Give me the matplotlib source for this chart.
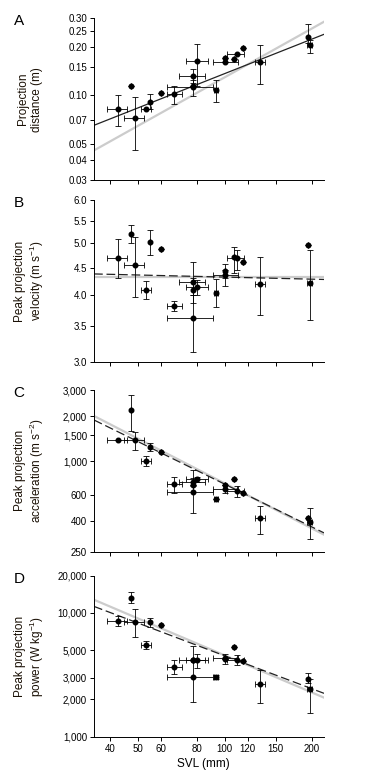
import matplotlib
matplotlib.use("Agg")
import matplotlib.pyplot as plt
import numpy as np
from matplotlib.ticker import FixedLocator, FixedFormatter, NullLocator

plt.rcParams['font.family'] = ['Liberation Sans', 'DejaVu Sans']
plt.rcParams['mathtext.fontset'] = 'custom'
plt.rcParams['mathtext.rm'] = 'Liberation Sans'
plt.rcParams['mathtext.default'] = 'regular'

# snout-vent length (mm) for each species, with x error range
svl = [42.7, 47.5, 48.8, 53.5, 55.0, 60.3, 67.0, 77.5, 77.5, 77.9,
       80.2, 93.3, 100.2, 100.2, 107.9, 109.9, 115.3, 132.7, 194.8, 197.4]
svl_lo = [39.2, None, 44.8, 51.3, None, None, 63.2, 69.7, 63.2, None,
          73.5, 92.0, None, 90.9, None, 101.8, None, 127.5, None, 193.0]
svl_hi = [46.0, None, 52.7, 55.7, None, None, 71.1, 85.7, 91.3, None,
          87.8, 95.0, None, 110.8, None, 116.8, None, 138.0, None, 201.0]

# A: projection distance (m)
dist = [0.0825, 0.115, 0.0722, 0.0821, 0.0907, 0.1031, 0.1026, 0.132, 0.1123, 0.1145,
        0.164, 0.1076, 0.1697, 0.1618, 0.168, 0.1814, 0.1957, 0.1618, 0.229, 0.204]
dist_lo = [0.0644, None, 0.046, None, 0.082, None, 0.0886, 0.12, 0.0993, None,
           0.115, 0.0907, None, None, None, None, None, 0.1178, 0.21, 0.182]
dist_hi = [0.1002, None, 0.0974, None, 0.1016, None, 0.115, 0.145, 0.1247, None,
           0.207, 0.124, None, None, None, None, None, 0.204, 0.275, 0.22]

# B: peak projection velocity (m/s)
vel = [4.694, 5.195, 4.544, 4.089, 5.02, 4.865, 3.823, 4.231, 3.633, 4.089,
       4.136, 4.043, 4.435, 4.36, 4.709, 4.683, 4.616, 4.195, 4.949, 4.219]
vel_lo = [4.304, 5.0, 3.963, 3.929, 4.75, None, 3.737, 4.0, 3.135, 3.862,
          4.002, 3.796, 4.3, 4.159, 4.4, 4.45, None, 3.674, None, 3.591]
vel_hi = [5.085, 5.392, 5.122, 4.25, 5.285, None, 3.9, 4.602, 4.0, 4.3,
          4.267, 4.279, 4.563, 4.45, 4.907, 4.85, None, 4.715, None, 4.852]

# C: peak projection acceleration (m/s2)
acc = [1384, 2195, 1384, 1002, 1249, 1151, 707, 730, 626, 700,
       760, 564, 700, 655, 768, 632, 616, 419, 419, 394]
acc_lo = [None, 1606, 1199, 928, 1169, None, 616, 690, 453, None,
          730, None, None, 620, None, 580, None, 330, None, 304]
acc_hi = [None, 2764, 1565, 1082, 1328, None, 788, 770, 882, None,
          790, None, None, 700, None, 690, None, 507, None, 487]

# D: peak projection power (W/kg)
power = [8604, 13282, 8497, 5506, 8393, 7937, 3679, 4165, 3016, 4165,
         4165, 3054, 4217, 4296, 5272, 4165, 4063, 2665, 2925, 2413]
power_lo = [7840, 11954, 6429, 5086, 7647, None, 3209, None, 1918, None,
            3566, 2950, None, 3900, None, 3800, None, 1859, 2700, 1543]
power_hi = [9444, 14664, 10690, 5894, 9155, None, 4165, None, 5404, None,
            4627, 3170, None, 4700, None, 4550, None, 3457, 3250, 2900]

# fitted power laws: (value at 100 mm, exponent)
fit_solid = [(0.1365, 0.707), None, None, None]
fit_dashed = [None, (4.320, -0.0129), (706, -0.9466), (4505, -0.8825)]
fit_gray = [(0.1295, 1.0), (4.316, 0.0), (714, -0.9957), (4542, -0.994)]

xticks = [40, 50, 60, 80, 100, 120, 150, 200]
yticks = [
    [0.03, 0.04, 0.05, 0.07, 0.10, 0.15, 0.20, 0.25, 0.30],
    [3.0, 3.5, 4.0, 4.5, 5.0, 5.5, 6.0],
    [250, 400, 600, 1000, 1500, 2000, 3000],
    [1000, 2000, 3000, 5000, 10000, 20000],
]
ytick_labels = [
    ['0.03', '0.04', '0.05', '0.07', '0.10', '0.15', '0.20', '0.25', '0.30'],
    ['3.0', '3.5', '4.0', '4.5', '5.0', '5.5', '6.0'],
    ['250', '400', '600', '1,000', '1,500', '2,000', '3,000'],
    ['1,000', '2,000', '3,000', '5,000', '10,000', '20,000'],
]
ylabels = [
    'Projection\ndistance (m)',
    'Peak projection\nvelocity (m s$^{-1}$)',
    'Peak projection\nacceleration (m s$^{-2}$)',
    'Peak projection\npower (W kg$^{-1}$)',
]
letters = ['A', 'B', 'C', 'D']
ys = [dist, vel, acc, power]
ylos = [dist_lo, vel_lo, acc_lo, power_lo]
yhis = [dist_hi, vel_hi, acc_hi, power_hi]

W, H = 380, 782
fig = plt.figure(figsize=(W / 100, H / 100), dpi=100)

# axes boxes in pixels: (top, bottom)
boxes = [(18.3, 180.0), (200.3, 362.3), (390.0, 551.7), (575.7, 736.7)]
left, right = 94, 324
xlim = (35.3, 220.6)


def err(vals, lo, hi):
    lower = [v - l if l is not None else 0 for v, l in zip(vals, lo)]
    upper = [h - v if h is not None else 0 for v, h in zip(vals, hi)]
    return np.array([lower, upper])


xerr = err(svl, svl_lo, svl_hi)
xx = np.geomspace(xlim[0], xlim[1], 50)

for i in range(4):
    top, bot = boxes[i]
    ax = fig.add_axes([left / W, 1 - bot / H, (right - left) / W, (bot - top) / H])
    ax.set_xscale('log')
    ax.set_yscale('log')
    ax.set_xlim(*xlim)
    ax.set_ylim(yticks[i][0], yticks[i][-1])

    if fit_gray[i]:
        a, b = fit_gray[i]
        ax.plot(xx, a * (xx / 100) ** b, color='#cccccc', lw=1.6, zorder=1)
    if fit_solid[i]:
        a, b = fit_solid[i]
        ax.plot(xx, a * (xx / 100) ** b, color='#222222', lw=0.9, zorder=2)
    if fit_dashed[i]:
        a, b = fit_dashed[i]
        ax.plot(xx, a * (xx / 100) ** b, color='#222222', lw=0.9,
                dashes=(7, 3), zorder=2)

    ax.errorbar(svl, ys[i], yerr=err(ys[i], ylos[i], yhis[i]), xerr=xerr,
                fmt='o', color='black', ms=3.3, elinewidth=0.6, capsize=2.2,
                capthick=0.6, zorder=3)

    for side in ['top', 'right']:
        ax.spines[side].set_visible(False)
    for side in ['left', 'bottom']:
        ax.spines[side].set_linewidth(0.7)

    ax.xaxis.set_major_locator(FixedLocator(xticks))
    ax.xaxis.set_minor_locator(NullLocator())
    if i == 3:
        ax.xaxis.set_major_formatter(FixedFormatter([str(t) for t in xticks]))
    else:
        ax.xaxis.set_major_formatter(FixedFormatter([''] * len(xticks)))
    ax.yaxis.set_major_locator(FixedLocator(yticks[i]))
    ax.yaxis.set_minor_locator(NullLocator())
    ax.yaxis.set_major_formatter(FixedFormatter(ytick_labels[i]))
    ax.tick_params(length=3, width=0.7, labelsize=7, pad=2)

    mid = (top + bot) / 2
    fig.text(30 / W, 1 - mid / H, ylabels[i], rotation=90, ha='center',
             va='center', multialignment='center', fontsize=8.5, color='#1a1005')
    fig.text(19 / W, 1 - (top + 3) / H, letters[i], ha='center', va='center',
             fontsize=11)

fig.text(203 / W, 1 - 764 / H, 'SVL (mm)', ha='center', va='center', fontsize=8.5)

fig.savefig('out.png', dpi=100)
